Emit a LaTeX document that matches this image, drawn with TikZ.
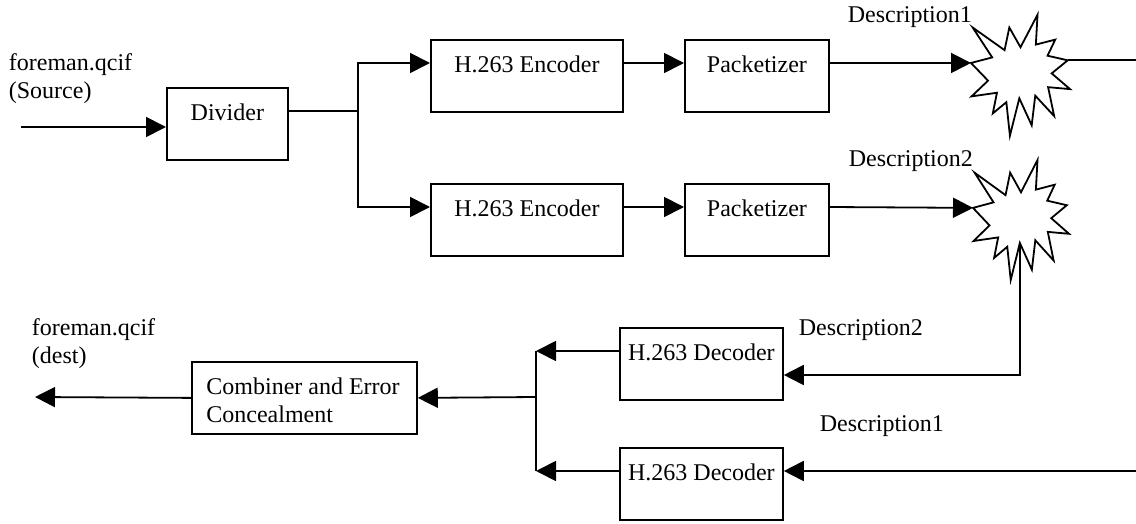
\documentclass[tikz,border=0pt]{standalone}
\usepackage{fontspec}
\setmainfont{Liberation Serif}
\usetikzlibrary{arrows.meta}

\tikzset{
    box/.style={draw, anchor=north west, inner ysep=0pt, text height=16.5pt, text depth=19.5pt, minimum height=36pt},
    arr/.style={-{Triangle[length=10pt,width=10pt]}},
    lbl/.style={anchor=base west, inner sep=0pt, align=left},
    burst/.style={draw, fill=white, line join=miter},
}

% explosion outline: #1 name, (#2,#3) top left corner, #4 x #5 size
\newcommand{\explosion}[5]{%
    \begin{scope}[shift={(#2,#3)}, xscale=#4/100, yscale=#5/100]
        \draw[burst] (50,26.9)--(67.2,0)--(65.5,24.7)--(85.1,20.6)--(77.3,33.9)--(97.7,37.7)
            --(81.5,48.5)--(100,61.5)--(77.9,59.9)--(84,83.8)--(64.9,66.9)--(61.3,91.4)
            --(48.8,69.1)--(39.3,100)--(35.7,72.3)--(22,81.6)--(26.2,64.5)--(0.6,67.5)
            --(17.2,54.5)--(0,39.9)--(21.4,35.3)--(1.7,10.6)--(33.9,29.3)--(38.7,10.6)--cycle;
        \coordinate (#1-w) at (0,39.9);
        \coordinate (#1-e) at (97.7,37.7);
        \coordinate (#1-s) at (48.8,69.1);
    \end{scope}}

\begin{document}
\begin{tikzpicture}[x=0.5pt, y=-0.5pt, line width=0.9pt, font=\fontsize{12}{14}\selectfont]
            \useasboundingbox (0,0) rectangle (1136,524);
            % sender side
            \node[box, minimum width=60.5pt] (div) at (166,87) {Divider};
            \node[box, minimum width=96pt] (enc1) at (430,39) {H.263 Encoder};
            \node[box, minimum width=72pt] (pk1) at (684,39) {Packetizer};
            \node[box, minimum width=96pt] (enc2) at (430,183) {H.263 Encoder};
            \node[box, minimum width=72pt] (pk2) at (684,183) {Packetizer};
            % receiver side
            \node[box, minimum width=81.5pt] (dec2) at (619,327) {H.263 Decoder};
            \node[box, minimum width=81.5pt] (dec1) at (619,447) {H.263 Decoder};
            \node[box, text width=98pt, inner xsep=7.25pt, align=flush left] (comb) at (191,361) {Combiner and Error\\Concealment};
            % lossy channels
            \explosion{ch1}{971}{14.7}{99}{121}
            \explosion{ch2}{973}{160}{96}{120}
            % labels (two-line ones sit on the baseline of the last line)
            \node[lbl] (srclbl) at (8,99) {foreman.qcif\\(Source)};
            \node[lbl] (dstlbl) at (31,363) {foreman.qcif\\(dest)};
            \node[lbl] (d1out) at (847,23) {Description1};
            \node[lbl] (d2out) at (848,167) {Description2};
            \node[lbl] (d2in) at (798,335) {Description2};
            \node[lbl] (d1in) at (819,431) {Description1};
            % free ends and junctions
            \coordinate (src) at (21,127);
            \coordinate (dst) at (35,397);
            \coordinate (split) at (358,111);
            \coordinate (merge) at (536,397);
            \coordinate (edge) at (1136,471);
            \coordinate (d2) at ([yshift=-12pt]dec2.north west);
            \coordinate (d1) at ([yshift=-12pt]dec1.north west);
            % connectors
            \draw[arr] (src)--(src -| div.west);
            \draw ([yshift=-12pt]div.north east)--(split);
            \draw[arr] (split) |- ([yshift=-12pt]enc1.north west);
            \draw[arr] (split) |- ([yshift=-12pt]enc2.north west);
            \draw[arr] ([yshift=-12pt]enc1.north east)--([yshift=-12pt]pk1.north west);
            \draw[arr] ([yshift=-12pt]enc2.north east)--([yshift=-12pt]pk2.north west);
            \draw[arr] ([yshift=-12pt]pk1.north east)--(ch1-w);
            \draw[arr] ([yshift=-12pt]pk2.north east)--(ch2-w);
            \draw (ch1-e)--(ch1-e -| edge);
            \draw[arr] (ch2-s) |- ([yshift=-24pt]dec2.north east);
            \draw[arr] (edge)--([yshift=-12pt]dec1.north east);
            \draw[arr] (d2)--(d2 -| merge);
            \draw[arr] (d1)--(d1 -| merge);
            \draw (d2 -| merge)--(d1 -| merge);
            \draw[arr] (merge)--(comb.east);
            \draw[arr] (comb.west)--(dst);
        \end{tikzpicture}
\end{document}
